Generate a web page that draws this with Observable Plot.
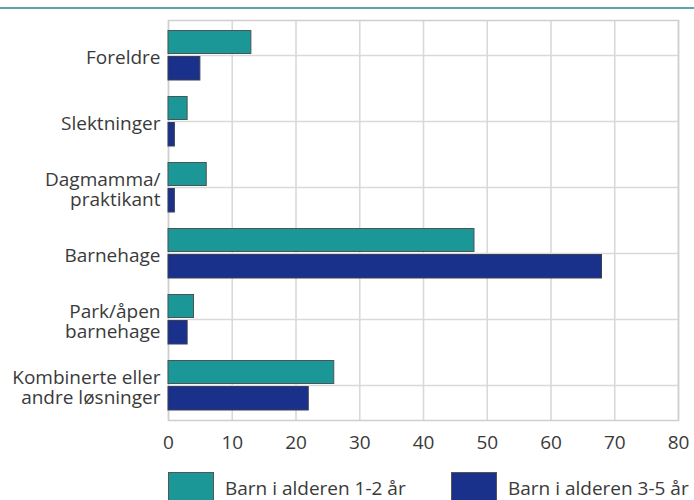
<!DOCTYPE html>
<html>
<head>
<meta charset="utf-8">
<script src="https://cdn.jsdelivr.net/npm/d3@7"></script>
<script src="https://cdn.jsdelivr.net/npm/@observablehq/plot@0.6"></script>
<style>
  html, body { margin: 0; padding: 0; background: #fff; }
  #wrap { position: relative; width: 694px; height: 500px; overflow: hidden; font-family: "Open Sans", sans-serif; }
  #topline { position: absolute; left: 0; top: 7px; width: 694px; height: 2px; background: #5da6a6; }
  #chart { position: absolute; left: 0; top: 0; }
  .leg { position: absolute; top: 472px; display: flex; align-items: flex-start; font-size: 19px; color: #3a3a3a; }
  .sw { width: 46px; height: 32px; box-sizing: border-box; border: 1px solid #555; flex: none; }
  .lt { margin-left: 11px; margin-top: 4px; white-space: nowrap; line-height: 24px; }
</style>
</head>
<body>
<div id="wrap">
  <div id="topline"></div>
  <div id="chart"></div>
  <div id="legend"></div>
</div>
<script>
const categories = ["Foreldre", "Slektninger", "Dagmamma/\npraktikant", "Barnehage", "Park/åpen\nbarnehage", "Kombinerte eller\nandre løsninger"];
const seriesNames = ["Barn i alderen 1-2 år", "Barn i alderen 3-5 år"];
const values12 = [13, 3, 6, 48, 4, 26];
const values35 = [5, 1, 1, 68, 3, 22];
const xTicks = [0, 10, 20, 30, 40, 50, 60, 70, 80];
const colors = ["#1b9797", "#1a318b"];

const rows12 = categories.map((c, i) => ({category: c, series: seriesNames[0], value: values12[i]}));
const rows35 = categories.map((c, i) => ({category: c, series: seriesNames[1], value: values35[i]}));

const chart = Plot.plot({
  width: 694,
  height: 460,
  marginLeft: 168,
  marginRight: 16,
  marginTop: 20,
  marginBottom: 40,
  style: {fontFamily: "Open Sans, sans-serif", fontSize: "19px", color: "#3a3a3a", background: "transparent"},
  x: {domain: [0, 80], ticks: xTicks, label: null},
  y: {domain: categories, padding: 0, label: null},
  color: {domain: seriesNames, range: colors},
  marks: [
    Plot.gridX(xTicks, {stroke: "#d9d9d9", strokeOpacity: 1, strokeWidth: 1.6}),
    Plot.gridY({stroke: "#d9d9d9", strokeOpacity: 1, strokeWidth: 1.6}),
    Plot.frame({stroke: "#cfcfcf", strokeWidth: 1.5}),
    Plot.barX(rows12, {y: "category", x: "value", fill: "series", stroke: "#4a5555", strokeWidth: 1, insetTop: 8.5, insetBottom: 34.5}),
    Plot.barX(rows35, {y: "category", x: "value", fill: "series", stroke: "#3a3f55", strokeWidth: 1, insetTop: 34.5, insetBottom: 8}),
    Plot.axisX({ticks: xTicks, tickSize: 0, tickPadding: 15, fontSize: 19, fill: "#3a3a3a", label: null}),
    Plot.axisY({tickSize: 0, tickPadding: 8, fontSize: 19, fill: "#3a3a3a", lineHeight: 1.06, dy: 2, label: null})
  ]
});
document.getElementById("chart").appendChild(chart);

const legend = document.getElementById("legend");
const lefts = [168, 451];
seriesNames.forEach((s, i) => {
  const d = document.createElement("div");
  d.className = "leg";
  d.style.left = lefts[i] + "px";
  const sw = document.createElement("div");
  sw.className = "sw";
  sw.style.background = colors[i];
  const t = document.createElement("div");
  t.className = "lt";
  t.textContent = s;
  d.appendChild(sw);
  d.appendChild(t);
  legend.appendChild(d);
});
</script>
</body>
</html>
